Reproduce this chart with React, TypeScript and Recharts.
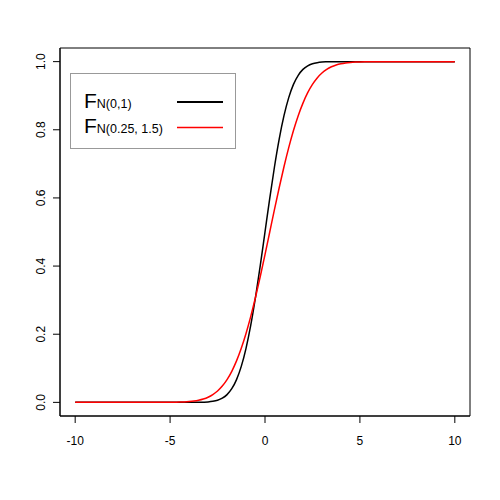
import { LineChart, Line, XAxis, YAxis, Legend, ReferenceArea } from 'recharts';

// x grid and values
const xs = [
    -10, -5, -4.75, -4.5, -4.25, -4, -3.75, -3.5, -3.25, -3, -2.75, -2.5, -2.25, -2, -1.75, -1.5, -1.25, -1,
    -0.75, -0.5, -0.25, 0, 0.25, 0.5, 0.75, 1, 1.25, 1.5, 1.75, 2, 2.25, 2.5, 2.75, 3, 3.25, 3.5, 3.75, 4,
    4.25, 4.5, 4.75, 5, 5.25, 5.5, 5.75, 6, 10,
];
const stdNormal = [
    0, 0, 0, 0, 0, 0, 0.0001, 0.0002, 0.0006, 0.0013, 0.003, 0.0062, 0.0122, 0.0228, 0.0401, 0.0668, 0.1056, 0.1587,
    0.2266, 0.3085, 0.4013, 0.5, 0.5987, 0.6915, 0.7734, 0.8413, 0.8944, 0.9332, 0.9599, 0.9772, 0.9878, 0.9938, 0.997, 0.9987, 0.9994, 0.9998, 0.9999, 1,
    1, 1, 1, 1, 1, 1, 1, 1, 1,
];
const shiftedNormal = [
    0, 0.0002, 0.0004, 0.0008, 0.0013, 0.0023, 0.0038, 0.0062, 0.0098, 0.0151, 0.0228, 0.0334, 0.0478, 0.0668, 0.0912, 0.1217, 0.1587, 0.2023,
    0.2525, 0.3085, 0.3694, 0.4338, 0.5, 0.5662, 0.6306, 0.6915, 0.7475, 0.7977, 0.8413, 0.8783, 0.9088, 0.9332, 0.9522, 0.9666, 0.9772, 0.9849, 0.9902, 0.9938,
    0.9962, 0.9977, 0.9987, 0.9992, 0.9996, 0.9998, 0.9999, 1, 1,
];

const xTicks = [-10, -5, 0, 5, 10];
const yTicks = [0, 0.2, 0.4, 0.6, 0.8, 1.0];
const legendSubs = ['N(0,1)', 'N(0.25, 1.5)'];

const X_DOMAIN = [-10.8, 10.8];
const Y_DOMAIN = [-0.04, 1.04];

const data = xs.map((x, i) => ({ x, a: stdNormal[i], b: shiftedNormal[i] }));

const FONT = '"Liberation Sans", Arial, Helvetica, sans-serif';

function YTick(props: any) {
    const { x, y, payload } = props;
    const tx = x - 8;
    return (
        <text
            x={tx}
            y={y}
            transform={`rotate(-90, ${tx}, ${y})`}
            textAnchor="middle"
            fontSize={12}
            fontFamily={FONT}
            fill="#000"
        >
            {Number(payload.value).toFixed(1)}
        </text>
    );
}

function LegendBox(props: any) {
    const items = props.payload || [];
    return (
        <svg width={166} height={76} style={{ display: 'block' }}>
            <rect x={0.5} y={0.5} width={165} height={75} fill="#fff" stroke="#999" />
            {items.map((item: any, i: number) => (
                <g key={i}>
                    <text x={14} y={34.5 + i * 25} fontFamily={FONT} fontSize={21} fill="#000">
                        F
                        <tspan fontSize={12.5}>{legendSubs[i]}</tspan>
                    </text>
                    <line
                        x1={107}
                        x2={153}
                        y1={29 + i * 25.5}
                        y2={29 + i * 25.5}
                        stroke={item.color}
                        strokeWidth={i === 0 ? 2 : 1.6}
                    />
                </g>
            ))}
        </svg>
    );
}

export default function App() {
    return (
        <div style={{ position: 'absolute', left: 0, top: 0, background: '#fff' }}>
            <LineChart width={500} height={500} data={data} margin={{ top: 48, right: 30, bottom: 0, left: 0 }}>
                <XAxis
                    dataKey="x"
                    type="number"
                    domain={X_DOMAIN}
                    ticks={xTicks}
                    allowDataOverflow
                    height={84}
                    tickSize={7}
                    tickMargin={13}
                    axisLine={{ stroke: '#000' }}
                    tickLine={{ stroke: '#000' }}
                    tick={{ fill: '#000', fontSize: 12, fontFamily: FONT }}
                />
                <YAxis
                    type="number"
                    domain={Y_DOMAIN}
                    ticks={yTicks}
                    allowDataOverflow
                    width={60}
                    tickSize={7}
                    tickMargin={0}
                    axisLine={{ stroke: '#000' }}
                    tickLine={{ stroke: '#000' }}
                    tick={<YTick />}
                />
                {/* plot frame */}
                <ReferenceArea
                    x1={X_DOMAIN[0]}
                    x2={X_DOMAIN[1]}
                    y1={Y_DOMAIN[0]}
                    y2={Y_DOMAIN[1]}
                    fill="none"
                    fillOpacity={0}
                    stroke="#000"
                    strokeOpacity={1}
                    strokeWidth={1}
                    ifOverflow="visible"
                />
                <Legend
                    layout="vertical"
                    align="center"
                    verticalAlign="middle"
                    content={<LegendBox />}
                    wrapperStyle={{ position: 'absolute', left: 70, top: 73, width: 166, height: 76 }}
                />
                <Line
                    dataKey="a"
                    name="F N(0,1)"
                    stroke="#000000"
                    strokeWidth={1.5}
                    dot={false}
                    type="monotone"
                    isAnimationActive={false}
                />
                <Line
                    dataKey="b"
                    name="F N(0.25, 1.5)"
                    stroke="#ff0000"
                    strokeWidth={1.5}
                    dot={false}
                    type="monotone"
                    isAnimationActive={false}
                />
            </LineChart>
        </div>
    );
}
